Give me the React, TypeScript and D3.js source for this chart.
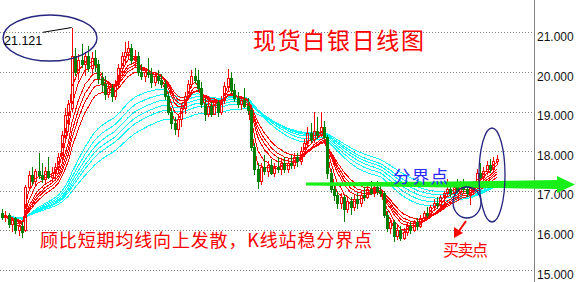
import React from "react";
import * as d3 from "d3";

const opens = [16.45,16.35,16.4,16.15,16.3,16.0,16.1,16.0,17.1,17.4,17.25,17.5,17.4,17.3,17.5,17.35,17.45,17.6,17.85,18.4,18.9,19.1,20.4,20.0,20.3,20.2,20.4,20.1,20.35,20.2,19.85,19.7,19.45,19.6,19.4,19.7,20.1,20.4,20.5,20.6,20.3,20.4,20.0,19.9,20.0,19.95,19.75,19.9,19.8,19.7,19.4,19.0,18.7,18.55,18.8,19.1,19.4,19.7,19.9,19.8,19.6,19.2,18.95,19.15,18.95,19.25,19.0,19.3,19.65,19.85,19.55,19.35,19.2,19.3,19.15,19.05,18.1,17.55,17.25,17.6,17.5,17.65,17.45,17.6,17.55,17.7,17.55,17.7,17.65,17.85,17.75,18.0,18.2,18.45,18.3,18.5,18.4,18.6,18.35,17.45,17.05,16.9,16.7,16.85,16.55,16.75,16.6,16.8,16.7,16.9,16.85,17.05,16.95,17.1,17.0,16.95,16.4,16.05,16.2,15.85,16.0,15.8,15.95,16.1,16.0,16.2,16.1,16.3,16.45,16.4,16.6,16.7,16.65,16.85,16.95,17.05,16.95,17.1,17.0,17.2,17.05,16.95,17.1,17.2,17.45,17.35,17.5,17.65,17.55,17.75];
const highs = [16.55,16.5,16.45,16.35,16.35,16.2,16.2,17.15,17.5,17.6,17.55,17.95,17.7,17.6,17.85,17.6,17.7,17.95,18.5,19.1,19.3,21.121,20.6,20.45,20.7,20.5,20.65,20.5,20.55,20.3,20.0,19.9,19.75,19.7,19.8,20.2,20.5,20.75,20.78,20.7,20.55,20.5,20.2,20.1,20.35,20.1,20.0,20.05,19.95,19.8,19.5,19.1,18.85,18.9,19.2,19.5,19.8,20.05,20.1,20.05,19.75,19.35,19.3,19.25,19.35,19.3,19.4,19.75,20.07,20.0,19.7,19.5,19.4,19.6,19.35,19.1,18.2,17.7,17.7,17.9,17.75,17.8,17.7,17.85,17.8,17.85,17.8,17.9,17.95,17.95,18.1,18.3,18.6,18.7,19.0,18.85,19.0,18.75,18.4,17.55,17.2,17.0,16.95,16.9,16.85,16.85,16.9,16.95,17.0,17.1,17.15,17.25,17.2,17.25,17.15,17.0,16.5,16.3,16.25,16.1,16.1,16.05,16.2,16.2,16.25,16.3,16.4,16.5,16.6,16.65,16.8,16.85,16.9,17.0,17.3,17.15,17.2,17.3,17.25,17.3,17.2,17.15,17.25,17.55,17.7,17.6,17.75,17.8,17.85,17.9];
const lows = [16.25,16.2,16.05,15.95,15.9,15.85,15.8,15.95,17.0,17.15,17.1,17.3,17.2,17.15,17.3,17.2,17.3,17.5,17.7,18.2,18.6,19.0,19.9,19.8,20.1,19.9,20.0,19.95,20.0,19.7,19.5,19.3,19.35,19.25,19.3,19.6,19.95,20.2,20.3,20.2,20.1,19.9,19.8,19.75,19.85,19.6,19.65,19.7,19.6,19.3,18.9,18.55,18.4,18.35,18.6,18.95,19.3,19.6,19.7,19.5,19.1,18.75,18.85,18.85,18.9,18.85,18.9,19.2,19.5,19.45,19.25,19.1,19.05,19.1,18.9,18.0,17.4,17.05,17.15,17.4,17.35,17.4,17.35,17.45,17.4,17.45,17.45,17.55,17.55,17.6,17.65,17.9,18.1,18.2,18.2,18.3,18.35,18.3,17.3,16.95,16.75,16.55,16.55,16.2,16.45,16.4,16.5,16.55,16.6,16.75,16.8,16.9,16.85,16.9,16.85,16.3,15.95,15.9,15.7,15.75,15.72,15.75,15.85,15.9,15.95,16.0,16.05,16.2,16.3,16.35,16.5,16.55,16.6,16.7,16.85,16.85,16.85,16.95,16.9,16.95,16.85,16.65,16.95,17.1,17.3,17.25,17.4,17.45,17.5,17.65];
const closes = [16.35,16.4,16.15,16.3,16.0,16.1,15.95,17.1,17.4,17.25,17.5,17.4,17.3,17.5,17.35,17.45,17.6,17.85,18.4,18.9,19.2,20.4,20.0,20.3,20.2,20.4,20.1,20.35,20.2,19.85,19.7,19.45,19.6,19.4,19.7,20.1,20.4,20.5,20.6,20.3,20.4,20.0,19.9,20.0,19.95,19.75,19.9,19.8,19.7,19.4,19.0,18.7,18.55,18.8,19.1,19.4,19.7,19.9,19.8,19.6,19.2,18.95,19.15,18.95,19.25,19.0,19.3,19.65,19.85,19.55,19.35,19.2,19.3,19.15,19.05,18.1,17.55,17.25,17.6,17.5,17.65,17.45,17.6,17.55,17.7,17.55,17.7,17.65,17.85,17.75,18.0,18.2,18.45,18.3,18.5,18.4,18.6,18.35,17.45,17.05,16.9,16.7,16.85,16.55,16.75,16.6,16.8,16.7,16.9,16.85,17.05,16.95,17.1,17.0,16.95,16.4,16.05,16.2,15.85,16.0,15.8,15.95,16.1,16.0,16.2,16.1,16.3,16.45,16.4,16.6,16.7,16.65,16.85,16.95,17.05,16.95,17.1,17.0,17.2,17.05,16.95,17.1,17.2,17.45,17.35,17.5,17.65,17.55,17.75,17.8];

const shortPeriods = [3, 5, 8, 10, 12, 15];
const longPeriods = [30, 35, 40, 45, 50, 60];
const priceTicks = [15, 16, 17, 18, 19, 20, 21];
const peakLabel = "21.121";
const titleText = "现货白银日线图";
const noteText = "顾比短期均线向上发散，K线站稳分界点";
const pivotText = "分界点";
const tradeText = "买卖点";

function ema(values: number[], n: number): number[] {
  const a = 2 / (n + 1);
  const out: number[] = [];
  values.forEach((v, i) => {
    out.push(i === 0 ? v : out[i - 1] + a * (v - out[i - 1]));
  });
  return out;
}

export default function App() {
  const W = 576, H = 282;
  const axisX = 534.5;
  const x = d3.scaleLinear().domain([0, closes.length - 1]).range([2, 496.7]);
  const y = d3.scaleLinear().domain([15, 21]).range([270, 32.3]);
  const line = d3.line<number>().x((_, i) => x(i)).y((v) => y(v));

  const longLines = longPeriods.map((p) => ema(closes, p));
  const shortLines = shortPeriods.map((p) => ema(closes, p));

  const candles = closes.map((c, i) => {
    const o = opens[i], h = highs[i], l = lows[i];
    const cx = Math.round(x(i)) + 0.5;
    const up = c >= o;
    const top = Math.round(y(Math.max(o, c)));
    const bot = Math.round(y(Math.min(o, c)));
    const hgt = Math.max(1, bot - top);
    const col = up ? "#ff0000" : "#008000";
    return (
      <g key={i}>
        <line x1={cx} x2={cx} y1={Math.round(y(h))} y2={top + 0.5} stroke={col} strokeWidth={1} />
        <line x1={cx} x2={cx} y1={top + 0.5 + hgt} y2={Math.round(y(l))} stroke={col} strokeWidth={1} />
        <rect x={cx - 1} y={top + 0.5} width={2} height={hgt} fill={up ? "none" : col} stroke={col} strokeWidth={1} />
      </g>
    );
  });

  return (
    <svg width={W} height={H} style={{ position: "fixed", left: 0, top: 0, background: "#fff" }}
      fontFamily="'Liberation Sans', Arial, sans-serif">
      <rect x={0} y={0} width={W} height={H} fill="#fff" />
      {priceTicks.map((t) => (
        <g key={t}>
          <line x1={0} x2={axisX} y1={Math.round(y(t)) + 0.5} y2={Math.round(y(t)) + 0.5}
            stroke="#808080" strokeWidth={1} strokeDasharray="1,2" />
          <text x={537} y={y(t) + 8.7} fontSize={12} fill="#111">{t.toFixed(3)}</text>
        </g>
      ))}
      <line x1={axisX} x2={axisX} y1={0} y2={H} stroke="#808080" strokeWidth={1} />

      <g fill="none" shapeRendering="crispEdges">
        {longLines.map((s, k) => (
          <path key={"l" + k} d={line(s) || ""} stroke="#00ffff" strokeWidth={1} />
        ))}
        {shortLines.map((s, k) => (
          <path key={"s" + k} d={line(s) || ""} stroke="#ff0000" strokeWidth={1} />
        ))}
      </g>
      <g shapeRendering="crispEdges">{candles}</g>

      {/* peak annotation */}
      <ellipse cx={50} cy={38} rx={47} ry={23} fill="none" stroke="#25257f" strokeWidth={1.4} />
      <line x1={43} y1={32.3} x2={x(21)} y2={y(21.121)} stroke="#000" strokeWidth={1} />
      <text x={4} y={45} fontSize={12.5} fill="#000">{peakLabel}</text>

      {/* title */}
      <text x={253} y={49} fontSize={23} fill="#ff0000" textLength={171}
        fontFamily="'Noto Sans CJK SC', sans-serif">{titleText}</text>

      {/* green arrow */}
      <polygon points="306,182.6 450,181.5 557,180 557,176 575,184.5 557,193 557,189 450,187.5 306,185.4"
        fill="#18ee18" />
      <text x={393} y={183} fontSize={17.5} fill="#2a2aff" textLength={55}
        fontFamily="'Noto Sans CJK SC', sans-serif">{pivotText}</text>

      {/* ellipses near the end */}
      <ellipse cx={467} cy={202.5} rx={14} ry={15.5} fill="none" stroke="#25257f" strokeWidth={1.3} />
      <ellipse cx={492} cy={175} rx={13} ry={47} fill="none" stroke="#25257f" strokeWidth={1.3} />

      {/* red arrow */}
      <line x1={466} y1={221} x2={459} y2={231} stroke="#ff0000" strokeWidth={2} />
      <polygon points="454,238 454,227 463,233" fill="#ff0000" />
      <text x={443} y={256} fontSize={16} fill="#ff0000" textLength={45}
        fontFamily="'Noto Sans CJK SC', sans-serif">{tradeText}</text>

      {/* bottom note */}
      <text x={40} y={247} fontSize={18} fill="#ff0000" textLength={332}
        fontFamily="'Noto Sans CJK SC', sans-serif">{noteText}</text>
    </svg>
  );
}
